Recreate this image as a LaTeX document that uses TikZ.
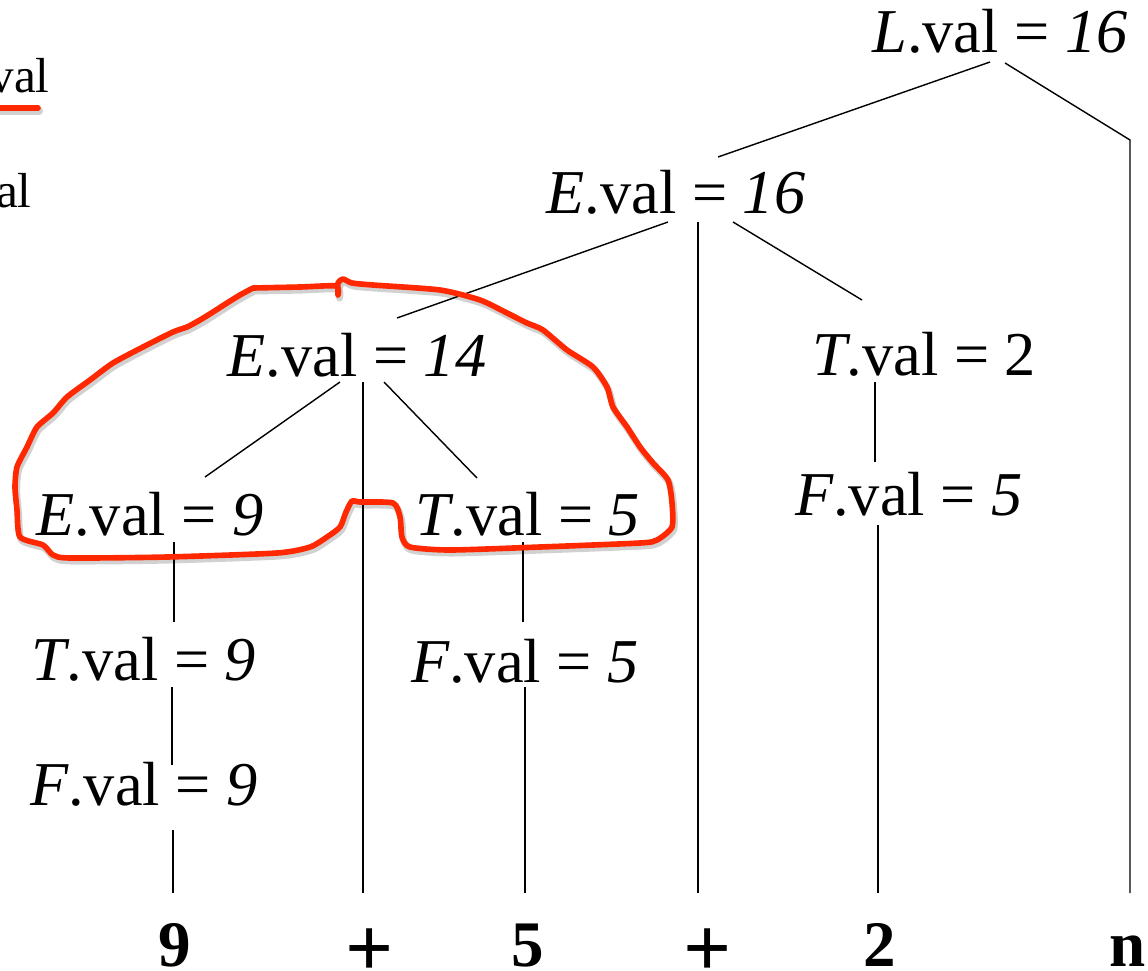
\documentclass[tikz,border=0pt]{standalone}
\usepackage{fontspec}
\setmainfont{Liberation Serif}
\definecolor{penred}{RGB}{255,40,0}
\tikzset{
  attr/.style={anchor=base,inner sep=0pt,font=\fontsize{35.5}{40}\selectfont},
  leaf/.style={anchor=base,inner sep=0pt,font=\fontsize{37}{42}\selectfont\bfseries},
  side/.style={anchor=base east,inner sep=0pt,font=\fontsize{28}{32}\selectfont},
  edge/.style={draw=black,line width=0.8pt},
  pen/.style={draw=penred,line width=3.2pt,line cap=round,line join=round},
  penshadow/.style={draw=black,opacity=0.18,line width=4pt,line cap=round,line join=round}
}
\begin{document}
\begin{tikzpicture}[x=0.02cm,y=-0.02cm]
\useasboundingbox (0,0) rectangle (1148,970);
\clip (0,0) rectangle (1148,970);
\fill[white] (0,0) rectangle (1148,970);

% partial side texts
\node[side] (sv) at (50,92) {val};
\node[side] (sa) at (32,207) {al};
\coordinate (ul1) at (-5,108);
\coordinate (ul2) at (38,108);
\draw[penshadow] ([shift={(1.5,3)}]ul1) -- ([shift={(1.5,3)}]ul2);
\draw[pen] (ul1) -- (ul2);

% attribute nodes
\node[attr] (L)   at (1000,52)  {\textit{L}.val = \textit{16}};
\node[attr] (E16) at (676,213)  {\textit{E}.val = \textit{16}};
\node[attr] (E14) at (357,376)  {\textit{E}.val = \textit{14}};
\node[attr] (T2)  at (924,375)  {\textit{T}.val = 2};
\node[attr] (F5r) at (909,515)  {\textit{F}.val = \textit{5}};
\node[attr] (E9)  at (150,535)  {\textit{E}.val = \textit{9}};
\node[attr] (T5)  at (528,535)  {\textit{T}.val = \textit{5}};
\node[attr] (T9)  at (144,680)  {\textit{T}.val = \textit{9}};
\node[attr] (F5m) at (525,682)  {\textit{F}.val = \textit{5}};
\node[attr] (F9)  at (144,805)  {\textit{F}.val = \textit{9}};

% leaves
\node[leaf] (n9)  at (175,966)  {9};
\node[leaf] (p1)  at (370,966)  {\raisebox{-6pt}{\scalebox{1.3}{+}}};
\node[leaf] (n5)  at (528,966)  {5};
\node[leaf] (p2)  at (708,966)  {\raisebox{-6pt}{\scalebox{1.3}{+}}};
\node[leaf] (n2)  at (880,966)  {2};
\node[leaf] (nn)  at (1128,966) {n};

% connector end points
\coordinate (L-a) at (990,62);   \coordinate (E16-t) at (718,157);
\coordinate (L-b) at (1005,63);  \coordinate (nbend) at (1130,140);
\coordinate (nn-t) at (1130,893);
\coordinate (E16-a) at (668,222); \coordinate (E14-t) at (397,318);
\coordinate (E16-b) at (698,222); \coordinate (p2-t) at (698,893);
\coordinate (E16-c) at (733,222); \coordinate (T2-t) at (862,300);
\coordinate (E14-a) at (340,382); \coordinate (E9-t) at (205,477);
\coordinate (E14-b) at (363,382); \coordinate (p1-t) at (363,893);
\coordinate (E14-c) at (384,382); \coordinate (T5-t) at (477,478);
\coordinate (T2-b) at (875,382);  \coordinate (F5r-t) at (875,462);
\coordinate (F5r-b) at (878,525); \coordinate (n2-t) at (878,893);
\coordinate (E9-b) at (174,542);  \coordinate (T9-t) at (174,622);
\coordinate (T9-b) at (172,687);  \coordinate (F9-t) at (172,765);
\coordinate (F9-b) at (173,830);  \coordinate (n9-t) at (173,893);
\coordinate (T5-b) at (523,542);  \coordinate (F5m-t) at (523,622);
\coordinate (F5m-b) at (525,687); \coordinate (n5-t) at (525,893);

\draw[edge] (L-a) -- (E16-t);
\draw[edge] (L-b) -- (nbend) -- (nn-t);
\draw[edge] (E16-a) -- (E14-t);
\draw[edge] (E16-b) -- (p2-t);
\draw[edge] (E16-c) -- (T2-t);
\draw[edge] (E14-a) -- (E9-t);
\draw[edge] (E14-b) -- (p1-t);
\draw[edge] (E14-c) -- (T5-t);
\draw[edge] (T2-b) -- (F5r-t);
\draw[edge] (F5r-b) -- (n2-t);
\draw[edge] (E9-b) -- (T9-t);
\draw[edge] (T9-b) -- (F9-t);
\draw[edge] (F9-b) -- (n9-t);
\draw[edge] (T5-b) -- (F5m-t);
\draw[edge] (F5m-b) -- (n5-t);

% hand-drawn red outline
\def\redloop{(253,288) (300,287) (336,286) (338,295) (338,283) (343,279) (352,283) (373,285)
 (440,290) (480,300) (507,313) (527,323) (543,330) (567,350) (593,367) (607,387)
 (613,407) (627,427) (640,447) (653,463) (668,480) (672,503) (672,527) (657,540)
 (640,543) (540,547) (450,550) (410,547) (402,537) (400,517) (393,503) (360,502)
 (352,501) (346,512) (340,527) (327,537) (310,547) (277,553) (167,557) (70,558)
 (53,555) (43,545) (20,537) (17,510) (15,487) (17,467) (27,447) (37,427) (53,413)
 (67,397) (90,380) (113,363) (143,347) (173,332) (187,327) (200,320) (213,312)
 (227,303) (240,295) (253,288)}
\begin{scope}[shift={(1.5,3)}]
\draw[penshadow] plot[smooth,tension=0.4] coordinates {\redloop};
\end{scope}
\draw[pen] plot[smooth,tension=0.4] coordinates {\redloop};
\end{tikzpicture}
\end{document}
